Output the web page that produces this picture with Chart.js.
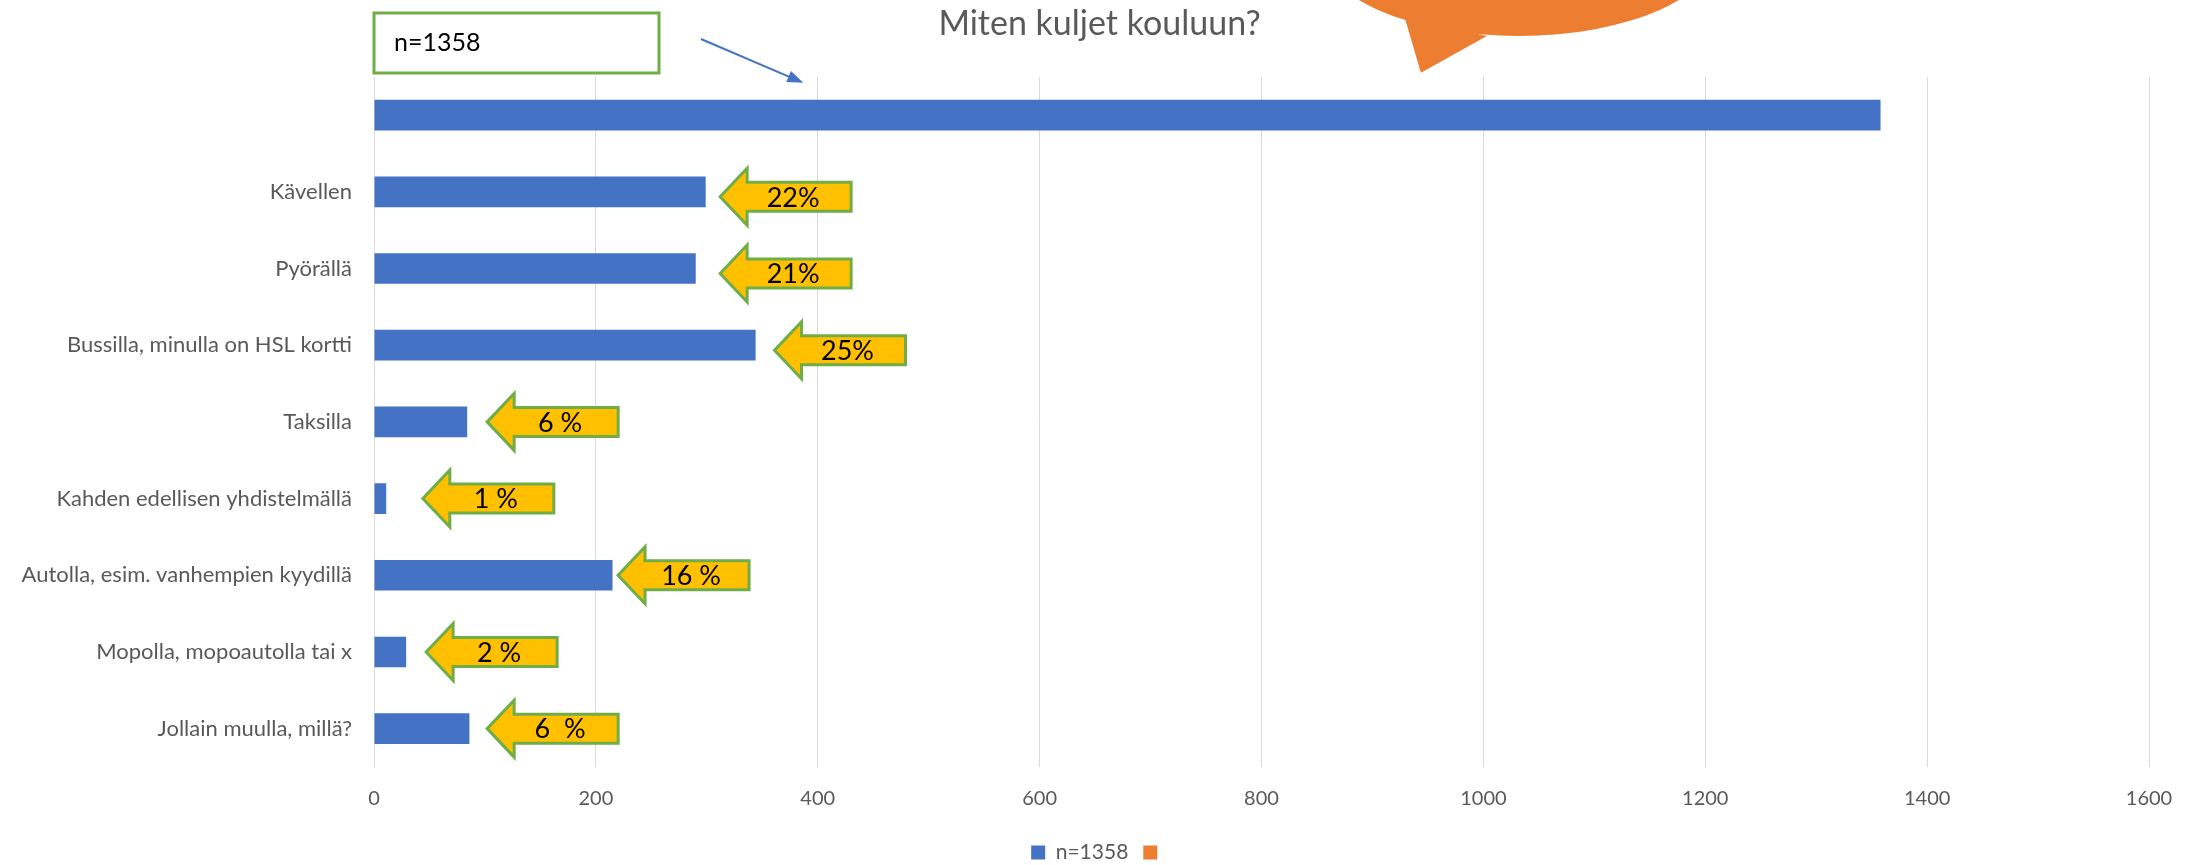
<!DOCTYPE html>
<html>
<head>
<meta charset="utf-8">
<script src="https://cdn.jsdelivr.net/npm/chart.js@4"></script>
<style>
  html, body { margin: 0; padding: 0; background: #fff; }
  #wrap { width: 2199px; height: 865px; }
</style>
</head>
<body>
<div id="wrap"><canvas id="kuljetus"></canvas></div>
<script>
// kategoriat (ylin palkki on koko otos ilman nimeä)
var categories = ['', 'Kävellen', 'Pyörällä', 'Bussilla, minulla on HSL kortti', 'Taksilla',
  'Kahden edellisen yhdistelmällä', 'Autolla, esim. vanhempien kyydillä',
  'Mopolla, mopoautolla tai x', 'Jollain muulla, millä?'];
// vastaajien määrät
var counts = [1358, 299, 290, 344, 84, 11, 215, 29, 86];
// tyhjä oranssi sarja (näkyy vain selitteessä)
var emptySeries = [0, 0, 0, 0, 0, 0, 0, 0, 0];
// nuolten tekstit ja kärjen paikka akselin yksiköissä
var pctLabels = [null, '22%', '21%', '25%', '6 %', '1 %', '16 %', '2 %', '6  %'];
var arrowTips = [null, 312, 312, 361, 102, 44, 220, 47, 102];
var xTicks = [0, 200, 400, 600, 800, 1000, 1200, 1400, 1600];

var FONT = 'Lato, "Open Sans", sans-serif';
var GREY = '#595959';

// keltaiset nuolet, tekstilaatikko ja oranssi puhekupla
var extras = {
  id: 'extras',
  afterDatasetsDraw: function (chart) {
    var ctx = chart.ctx;
    var x = chart.scales.x, y = chart.scales.y;
    var area = chart.chartArea;
    ctx.save();

    // puhekupla
    ctx.fillStyle = '#ED7D31';
    var bx = x.getPixelForValue(1032);
    ctx.beginPath();
    ctx.ellipse(bx, -54, 200, 90, 0, 0, Math.PI * 2);
    ctx.fill();
    ctx.beginPath();
    ctx.moveTo(bx - 114, 18);
    ctx.lineTo(bx - 98, area.top - 4);
    ctx.lineTo(bx - 32, 36);
    ctx.closePath();
    ctx.fill();

    // n=1358 laatikko
    ctx.strokeStyle = '#70AD47';
    ctx.lineWidth = 3;
    ctx.strokeRect(area.left, 13, 285, 60);
    ctx.fillStyle = '#000';
    ctx.font = '25px ' + FONT;
    ctx.textAlign = 'left';
    ctx.textBaseline = 'middle';
    ctx.fillText('n=1358', area.left + 20, 43);

    // sininen nuoli laatikosta palkkiin
    var ax0 = 701, ay0 = 39;
    var ax1 = x.getPixelForValue(387), ay1 = area.top + 6;
    ctx.strokeStyle = '#4472C4';
    ctx.fillStyle = '#4472C4';
    ctx.lineWidth = 2;
    var ang = Math.atan2(ay1 - ay0, ax1 - ax0);
    ctx.beginPath();
    ctx.moveTo(ax0, ay0);
    ctx.lineTo(ax1 - 12 * Math.cos(ang), ay1 - 12 * Math.sin(ang));
    ctx.stroke();
    ctx.beginPath();
    ctx.moveTo(ax1, ay1);
    ctx.lineTo(ax1 - 16 * Math.cos(ang) + 6 * Math.sin(ang), ay1 - 16 * Math.sin(ang) - 6 * Math.cos(ang));
    ctx.lineTo(ax1 - 16 * Math.cos(ang) - 6 * Math.sin(ang), ay1 - 16 * Math.sin(ang) + 6 * Math.cos(ang));
    ctx.closePath();
    ctx.fill();

    // keltaiset prosenttinuolet
    for (var i = 0; i < categories.length; i++) {
      if (arrowTips[i] === null) continue;
      var tx = x.getPixelForValue(arrowTips[i]);
      var cy = y.getPixelForValue(i) + (i < 4 ? 5 : 0);
      var hb = tx + 27, rx = tx + 131;
      ctx.beginPath();
      ctx.moveTo(tx, cy);
      ctx.lineTo(hb, cy - 28.5);
      ctx.lineTo(hb, cy - 14.5);
      ctx.lineTo(rx, cy - 14.5);
      ctx.lineTo(rx, cy + 14.5);
      ctx.lineTo(hb, cy + 14.5);
      ctx.lineTo(hb, cy + 28.5);
      ctx.closePath();
      ctx.fillStyle = '#FFC000';
      ctx.fill();
      ctx.strokeStyle = '#70AD47';
      ctx.lineWidth = 3;
      ctx.stroke();
      ctx.fillStyle = '#000';
      ctx.font = '27px ' + FONT;
      ctx.textAlign = 'center';
      ctx.textBaseline = 'middle';
      ctx.fillText(pctLabels[i], (hb + rx) / 2 - 6, cy + 1);
    }
    ctx.restore();
  }
};

var chart = new Chart(document.getElementById('kuljetus'), {
  type: 'bar',
  data: {
    labels: categories,
    datasets: [
      { label: 'n=1358', data: counts, backgroundColor: '#4472C4' },
      { label: '', data: emptySeries, backgroundColor: '#ED7D31' }
    ]
  },
  options: {
    indexAxis: 'y',
    responsive: true,
    maintainAspectRatio: false,
    animation: false,
    categoryPercentage: 0.4,
    barPercentage: 1,
    layout: { padding: { left: 0, right: 0, top: 0, bottom: -8 } },
    scales: {
      x: {
        stacked: true,
        min: 0,
        max: 1600,
        afterBuildTicks: function (scale) {
          scale.ticks = xTicks.map(function (v) { return { value: v }; });
        },
        afterFit: function (scale) { scale.height = 60; },
        grid: { color: '#D9D9D9', lineWidth: 1, drawTicks: false },
        border: { display: false },
        ticks: {
          color: GREY, font: { family: FONT, size: 20 }, padding: 20,
          callback: function (v) { return String(v); }
        }
      },
      y: {
        stacked: true,
        afterFit: function (scale) { scale.width = 374; },
        grid: { display: false, drawTicks: false },
        border: { display: false },
        ticks: { color: GREY, font: { family: FONT, size: 22 }, padding: 22 }
      },
      // tyhjä oikea reuna-akseli, jotta otsikko ja selite keskittyvät koko leveydelle
      yRight: {
        type: 'linear',
        axis: 'y',
        position: 'right',
        afterFit: function (scale) { scale.width = 50; },
        grid: { display: false, drawTicks: false },
        border: { display: false },
        ticks: { display: false }
      }
    },
    plugins: {
      title: {
        display: true,
        text: 'Miten kuljet kouluun?',
        color: GREY,
        font: { family: FONT, size: 34, weight: 'normal' },
        padding: { top: 4, bottom: 32 }
      },
      legend: {
        position: 'bottom',
        labels: {
          color: GREY,
          font: { family: FONT, size: 21 },
          boxWidth: 14,
          boxHeight: 14,
          padding: 15
        }
      },
      tooltip: { enabled: false }
    }
  },
  plugins: [extras]
});
</script>
</body>
</html>
